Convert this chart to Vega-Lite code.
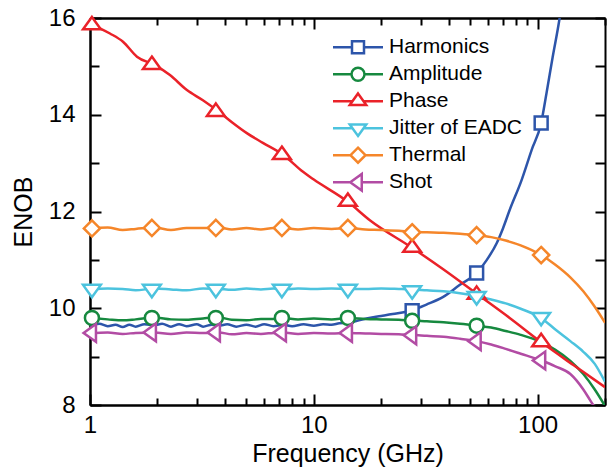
{
  "$schema": "https://vega.github.io/schema/vega-lite/v6.json",
  "width": 515,
  "height": 387,
  "autosize": {"type": "none"},
  "padding": {"left": 90, "top": 18, "right": 10, "bottom": 71},
  "background": "white",
  "config": {
    "view": {"stroke": null},
    "font": "Liberation Sans",
    "axis": {
      "grid": false,
      "domainColor": "black",
      "domainWidth": 2,
      "tickColor": "black",
      "tickWidth": 2,
      "labelFont": "Liberation Sans",
      "labelFontSize": 24,
      "labelColor": "black",
      "labelFlush": false,
      "labelOverlap": false,
      "labelBound": false,
      "titleFont": "Liberation Sans",
      "titleFontSize": 25,
      "titleFontWeight": "normal",
      "titleColor": "black"
    },
    "legend": {
      "labelFont": "Liberation Sans",
      "labelFontSize": 21,
      "labelColor": "black"
    }
  },
  "datasets": {
    "lines": [
      {"s":"Harmonics","f":1,"v":9.63},{"s":"Harmonics","f":1.1,"v":9.68},{"s":"Harmonics","f":1.2,"v":9.63},{"s":"Harmonics","f":1.3,"v":9.66},{"s":"Harmonics","f":1.4,"v":9.61},{"s":"Harmonics","f":1.5,"v":9.66},{"s":"Harmonics","f":1.6,"v":9.62},{"s":"Harmonics","f":1.75,"v":9.67},{"s":"Harmonics","f":1.94,"v":9.65},{"s":"Harmonics","f":2.1,"v":9.68},{"s":"Harmonics","f":2.3,"v":9.62},{"s":"Harmonics","f":2.5,"v":9.67},{"s":"Harmonics","f":2.7,"v":9.63},{"s":"Harmonics","f":3,"v":9.67},{"s":"Harmonics","f":3.2,"v":9.62},{"s":"Harmonics","f":3.5,"v":9.66},{"s":"Harmonics","f":3.77,"v":9.64},{"s":"Harmonics","f":4.1,"v":9.67},{"s":"Harmonics","f":4.5,"v":9.62},{"s":"Harmonics","f":5,"v":9.66},{"s":"Harmonics","f":5.5,"v":9.62},{"s":"Harmonics","f":6,"v":9.67},{"s":"Harmonics","f":6.6,"v":9.63},{"s":"Harmonics","f":7.31,"v":9.66},{"s":"Harmonics","f":8,"v":9.63},{"s":"Harmonics","f":9,"v":9.67},{"s":"Harmonics","f":10,"v":9.64},{"s":"Harmonics","f":11,"v":9.67},{"s":"Harmonics","f":12,"v":9.66},{"s":"Harmonics","f":13,"v":9.69},{"s":"Harmonics","f":14.2,"v":9.7},{"s":"Harmonics","f":17.2,"v":9.79},{"s":"Harmonics","f":20,"v":9.84},{"s":"Harmonics","f":22.5,"v":9.88},{"s":"Harmonics","f":27.5,"v":9.96},{"s":"Harmonics","f":32,"v":10.08},{"s":"Harmonics","f":37.7,"v":10.23},{"s":"Harmonics","f":44.8,"v":10.48},{"s":"Harmonics","f":53.4,"v":10.73},{"s":"Harmonics","f":59.3,"v":11.0},{"s":"Harmonics","f":65.7,"v":11.35},{"s":"Harmonics","f":70,"v":11.65},{"s":"Harmonics","f":75,"v":12.03},{"s":"Harmonics","f":84.8,"v":12.65},{"s":"Harmonics","f":94,"v":13.27},{"s":"Harmonics","f":103.7,"v":13.83},{"s":"Harmonics","f":109.6,"v":14.45},{"s":"Harmonics","f":116.7,"v":15.19},{"s":"Harmonics","f":125,"v":15.96},{"s":"Harmonics","f":130,"v":16.5},

      {"s":"Amplitude","f":1,"v":9.8},{"s":"Amplitude","f":1.2,"v":9.77},{"s":"Amplitude","f":1.4,"v":9.75},{"s":"Amplitude","f":1.6,"v":9.77},{"s":"Amplitude","f":1.94,"v":9.81},{"s":"Amplitude","f":2.3,"v":9.77},{"s":"Amplitude","f":2.7,"v":9.76},{"s":"Amplitude","f":3.2,"v":9.79},{"s":"Amplitude","f":3.77,"v":9.81},{"s":"Amplitude","f":4.3,"v":9.76},{"s":"Amplitude","f":5,"v":9.75},{"s":"Amplitude","f":5.8,"v":9.78},{"s":"Amplitude","f":6.6,"v":9.78},{"s":"Amplitude","f":7.31,"v":9.8},{"s":"Amplitude","f":8.5,"v":9.77},{"s":"Amplitude","f":10,"v":9.79},{"s":"Amplitude","f":12,"v":9.77},{"s":"Amplitude","f":14.2,"v":9.8},{"s":"Amplitude","f":17,"v":9.78},{"s":"Amplitude","f":20,"v":9.77},{"s":"Amplitude","f":24,"v":9.76},{"s":"Amplitude","f":27.5,"v":9.75},{"s":"Amplitude","f":32,"v":9.73},{"s":"Amplitude","f":38,"v":9.71},{"s":"Amplitude","f":45,"v":9.68},{"s":"Amplitude","f":53.4,"v":9.64},{"s":"Amplitude","f":62,"v":9.6},{"s":"Amplitude","f":72,"v":9.53},{"s":"Amplitude","f":84,"v":9.45},{"s":"Amplitude","f":103.7,"v":9.3},{"s":"Amplitude","f":120,"v":9.14},{"s":"Amplitude","f":140,"v":8.91},{"s":"Amplitude","f":160,"v":8.64},{"s":"Amplitude","f":180,"v":8.32},{"s":"Amplitude","f":200,"v":7.98},

      {"s":"Phase","f":1,"v":15.88},{"s":"Phase","f":1.228,"v":15.68},{"s":"Phase","f":1.404,"v":15.51},{"s":"Phase","f":1.621,"v":15.2},{"s":"Phase","f":1.94,"v":15.03},{"s":"Phase","f":2.276,"v":14.82},{"s":"Phase","f":2.71,"v":14.51},{"s":"Phase","f":3.195,"v":14.3},{"s":"Phase","f":3.77,"v":14.06},{"s":"Phase","f":4.35,"v":13.83},{"s":"Phase","f":5.02,"v":13.62},{"s":"Phase","f":5.92,"v":13.42},{"s":"Phase","f":7.31,"v":13.17},{"s":"Phase","f":8.95,"v":12.82},{"s":"Phase","f":10,"v":12.66},{"s":"Phase","f":14.2,"v":12.2},{"s":"Phase","f":17.8,"v":11.82},{"s":"Phase","f":27.5,"v":11.25},{"s":"Phase","f":38,"v":10.8},{"s":"Phase","f":53.4,"v":10.3},{"s":"Phase","f":75,"v":9.8},{"s":"Phase","f":103.7,"v":9.3},{"s":"Phase","f":145,"v":8.82},{"s":"Phase","f":200,"v":8.37},

      {"s":"Jitter of EADC","f":1,"v":10.38},{"s":"Jitter of EADC","f":1.2,"v":10.41},{"s":"Jitter of EADC","f":1.4,"v":10.4},{"s":"Jitter of EADC","f":1.6,"v":10.37},{"s":"Jitter of EADC","f":1.94,"v":10.41},{"s":"Jitter of EADC","f":2.3,"v":10.39},{"s":"Jitter of EADC","f":2.7,"v":10.37},{"s":"Jitter of EADC","f":3.2,"v":10.41},{"s":"Jitter of EADC","f":3.77,"v":10.4},{"s":"Jitter of EADC","f":4.3,"v":10.38},{"s":"Jitter of EADC","f":5,"v":10.41},{"s":"Jitter of EADC","f":5.8,"v":10.39},{"s":"Jitter of EADC","f":6.6,"v":10.41},{"s":"Jitter of EADC","f":7.31,"v":10.39},{"s":"Jitter of EADC","f":8.5,"v":10.41},{"s":"Jitter of EADC","f":10,"v":10.4},{"s":"Jitter of EADC","f":12,"v":10.41},{"s":"Jitter of EADC","f":14.2,"v":10.4},{"s":"Jitter of EADC","f":17,"v":10.4},{"s":"Jitter of EADC","f":20,"v":10.41},{"s":"Jitter of EADC","f":24,"v":10.4},{"s":"Jitter of EADC","f":27.5,"v":10.39},{"s":"Jitter of EADC","f":32,"v":10.37},{"s":"Jitter of EADC","f":38,"v":10.35},{"s":"Jitter of EADC","f":45,"v":10.31},{"s":"Jitter of EADC","f":53.4,"v":10.25},{"s":"Jitter of EADC","f":62,"v":10.18},{"s":"Jitter of EADC","f":72,"v":10.1},{"s":"Jitter of EADC","f":84,"v":9.99},{"s":"Jitter of EADC","f":103.7,"v":9.8},{"s":"Jitter of EADC","f":120,"v":9.56},{"s":"Jitter of EADC","f":140,"v":9.32},{"s":"Jitter of EADC","f":160,"v":9.1},{"s":"Jitter of EADC","f":180,"v":8.85},{"s":"Jitter of EADC","f":200,"v":8.48},

      {"s":"Thermal","f":1,"v":11.65},{"s":"Thermal","f":1.2,"v":11.67},{"s":"Thermal","f":1.4,"v":11.62},{"s":"Thermal","f":1.6,"v":11.64},{"s":"Thermal","f":1.94,"v":11.67},{"s":"Thermal","f":2.3,"v":11.62},{"s":"Thermal","f":2.7,"v":11.66},{"s":"Thermal","f":3.2,"v":11.66},{"s":"Thermal","f":3.77,"v":11.67},{"s":"Thermal","f":4.3,"v":11.63},{"s":"Thermal","f":5,"v":11.66},{"s":"Thermal","f":5.8,"v":11.63},{"s":"Thermal","f":6.6,"v":11.66},{"s":"Thermal","f":7.31,"v":11.66},{"s":"Thermal","f":8.5,"v":11.63},{"s":"Thermal","f":10,"v":11.66},{"s":"Thermal","f":12,"v":11.64},{"s":"Thermal","f":14.2,"v":11.66},{"s":"Thermal","f":17,"v":11.63},{"s":"Thermal","f":20,"v":11.62},{"s":"Thermal","f":24,"v":11.6},{"s":"Thermal","f":27.5,"v":11.58},{"s":"Thermal","f":32,"v":11.57},{"s":"Thermal","f":38,"v":11.56},{"s":"Thermal","f":45,"v":11.54},{"s":"Thermal","f":53.4,"v":11.51},{"s":"Thermal","f":62,"v":11.47},{"s":"Thermal","f":72,"v":11.4},{"s":"Thermal","f":84,"v":11.3},{"s":"Thermal","f":103.7,"v":11.1},{"s":"Thermal","f":120,"v":10.9},{"s":"Thermal","f":140,"v":10.64},{"s":"Thermal","f":160,"v":10.35},{"s":"Thermal","f":180,"v":10.03},{"s":"Thermal","f":200,"v":9.7},

      {"s":"Shot","f":1,"v":9.48},{"s":"Shot","f":1.2,"v":9.5},{"s":"Shot","f":1.4,"v":9.47},{"s":"Shot","f":1.6,"v":9.49},{"s":"Shot","f":1.94,"v":9.5},{"s":"Shot","f":2.3,"v":9.47},{"s":"Shot","f":2.7,"v":9.5},{"s":"Shot","f":3.2,"v":9.49},{"s":"Shot","f":3.77,"v":9.5},{"s":"Shot","f":4.3,"v":9.46},{"s":"Shot","f":5,"v":9.49},{"s":"Shot","f":5.8,"v":9.47},{"s":"Shot","f":6.6,"v":9.49},{"s":"Shot","f":7.31,"v":9.5},{"s":"Shot","f":8.5,"v":9.47},{"s":"Shot","f":10,"v":9.49},{"s":"Shot","f":12,"v":9.48},{"s":"Shot","f":14.2,"v":9.49},{"s":"Shot","f":17,"v":9.48},{"s":"Shot","f":20,"v":9.47},{"s":"Shot","f":24,"v":9.46},{"s":"Shot","f":27.5,"v":9.45},{"s":"Shot","f":32,"v":9.43},{"s":"Shot","f":38,"v":9.41},{"s":"Shot","f":45,"v":9.37},{"s":"Shot","f":53.4,"v":9.32},{"s":"Shot","f":62,"v":9.25},{"s":"Shot","f":72,"v":9.16},{"s":"Shot","f":84,"v":9.06},{"s":"Shot","f":103.7,"v":8.92},{"s":"Shot","f":120,"v":8.8},{"s":"Shot","f":140,"v":8.64},{"s":"Shot","f":160,"v":8.32},{"s":"Shot","f":170,"v":8.13},{"s":"Shot","f":177,"v":8.0},{"s":"Shot","f":185,"v":7.85}
    ],
    "marks": [
      {"series":"Harmonics","f":27.5,"v":9.95},{"series":"Harmonics","f":53.4,"v":10.73},{"series":"Harmonics","f":103.7,"v":13.83},
      {"series":"Amplitude","f":1.02,"v":9.8},{"series":"Amplitude","f":1.89,"v":9.8},{"series":"Amplitude","f":3.65,"v":9.8},{"series":"Amplitude","f":7.2,"v":9.8},{"series":"Amplitude","f":14.2,"v":9.8},{"series":"Amplitude","f":27.5,"v":9.74},{"series":"Amplitude","f":53.4,"v":9.64},
      {"series":"Phase","f":1.02,"v":15.85},{"series":"Phase","f":1.89,"v":15.03},{"series":"Phase","f":3.65,"v":14.06},{"series":"Phase","f":7.2,"v":13.17},{"series":"Phase","f":14.2,"v":12.2},{"series":"Phase","f":27.5,"v":11.25},{"series":"Phase","f":53.4,"v":10.28},{"series":"Phase","f":103.7,"v":9.3},
      {"series":"Jitter of EADC","f":1.02,"v":10.4},{"series":"Jitter of EADC","f":1.89,"v":10.4},{"series":"Jitter of EADC","f":3.65,"v":10.4},{"series":"Jitter of EADC","f":7.2,"v":10.4},{"series":"Jitter of EADC","f":14.2,"v":10.4},{"series":"Jitter of EADC","f":27.5,"v":10.37},{"series":"Jitter of EADC","f":53.4,"v":10.25},{"series":"Jitter of EADC","f":103.7,"v":9.82},
      {"series":"Thermal","f":1.02,"v":11.65},{"series":"Thermal","f":1.89,"v":11.66},{"series":"Thermal","f":3.65,"v":11.66},{"series":"Thermal","f":7.2,"v":11.66},{"series":"Thermal","f":14.2,"v":11.66},{"series":"Thermal","f":27.5,"v":11.57},{"series":"Thermal","f":53.4,"v":11.51},{"series":"Thermal","f":103.7,"v":11.1},
      {"series":"Shot","f":1.02,"v":9.49},{"series":"Shot","f":1.89,"v":9.5},{"series":"Shot","f":3.65,"v":9.5},{"series":"Shot","f":7.2,"v":9.5},{"series":"Shot","f":14.2,"v":9.49},{"series":"Shot","f":27.5,"v":9.44},{"series":"Shot","f":53.4,"v":9.32},{"series":"Shot","f":103.7,"v":8.92}
    ]
  },
  "resolve": {"axis": {"x": "independent", "y": "independent"}},
  "layer": [
    {
      "data": {"name": "lines"},
      "transform": [{"filter": "indexof(['Harmonics','Amplitude','Phase'], datum.s) >= 0"}],
      "mark": {"type": "line", "strokeWidth": 2.5, "clip": true, "interpolate": "monotone"},
      "encoding": {
        "x": {"field": "f", "type": "quantitative",
              "scale": {"type": "log", "domain": [1, 200], "nice": false},
              "axis": {"orient": "bottom", "values": [1, 10, 100], "format": "d", "tickSize": -11, "labelPadding": 19, "title": "Frequency (GHz)", "titlePadding": 4}},
        "y": {"field": "v", "type": "quantitative",
              "scale": {"domain": [8, 16], "nice": false, "zero": false},
              "axis": {"orient": "left", "values": [8, 10, 12, 14, 16], "tickSize": -11, "labelPadding": 26, "title": "ENOB", "titlePadding": 12}},
        "color": {"field": "s", "type": "nominal",
                  "scale": {"domain": ["Harmonics", "Amplitude", "Phase", "Jitter of EADC", "Thermal", "Shot"],
                            "range": ["#2D55AA", "#16893F", "#EA2229", "#4CC3DE", "#F5862A", "#B24CA4"]},
                  "legend": {"orient": "none", "legendX": 241.5, "legendY": 16, "title": null, "padding": 0,
                             "symbolSize": 2500, "symbolStrokeWidth": 2.5, "clipHeight": 26.4, "rowPadding": 0, "labelOffset": 4.5,
                             "encode": {"symbols": {"update": {
                               "fill": {"value": "white"},
                               "fillOpacity": {"value": 1},
                               "strokeWidth": {"value": 2.5},
                               "size": {"value": 2500},
                               "shape": {"signal": "datum.value === 'Harmonics' ? 'M-1,0H-0.24M0.24,0H1M-0.24,-0.24H0.24V0.24H-0.24Z' : datum.value === 'Amplitude' ? 'M-1,0H-0.26M0.26,0H1M-0.26,0A0.26,0.26,0,1,1,0.26,0A0.26,0.26,0,1,1,-0.26,0Z' : datum.value === 'Phase' ? 'M-1,0H-0.22M0.22,0H1M0,-0.31L0.33,0.15H-0.33Z' : datum.value === 'Jitter of EADC' ? 'M-1,0H-0.22M0.22,0H1M0,0.31L0.33,-0.15H-0.33Z' : datum.value === 'Thermal' ? 'M-1,0H-0.3M0.3,0H1M0,-0.3L0.3,0L0,0.3L-0.3,0Z' : 'M-1,0H-0.31M0.15,0H1M-0.31,0L0.15,-0.33V0.33Z'"}
                             }}}}}
      }
    },
    {
      "data": {"name": "lines"},
      "transform": [{"filter": "indexof(['Jitter of EADC','Thermal','Shot'], datum.s) >= 0"}],
      "mark": {"type": "line", "strokeWidth": 2.5, "clip": true, "interpolate": "monotone"},
      "encoding": {
        "x": {"field": "f", "type": "quantitative",
              "axis": {"orient": "bottom", "values": [2, 3, 4, 5, 6, 7, 8, 9, 20, 30, 40, 50, 60, 70, 80, 90, 200], "labels": false, "tickSize": -7, "title": null}},
        "y": {"field": "v", "type": "quantitative",
              "axis": {"orient": "left", "values": [9, 11, 13, 15], "labels": false, "tickSize": -9, "title": null}},
        "color": {"field": "s", "type": "nominal",
                  "legend": {"orient": "none", "legendX": 241.5, "legendY": 16, "title": null, "padding": 0,
                             "symbolSize": 2500, "symbolStrokeWidth": 2.5, "clipHeight": 26.4, "rowPadding": 0, "labelOffset": 4.5,
                             "encode": {"symbols": {"update": {
                               "fill": {"value": "white"},
                               "fillOpacity": {"value": 1},
                               "strokeWidth": {"value": 2.5},
                               "size": {"value": 2500},
                               "shape": {"signal": "datum.value === 'Harmonics' ? 'M-1,0H-0.24M0.24,0H1M-0.24,-0.24H0.24V0.24H-0.24Z' : datum.value === 'Amplitude' ? 'M-1,0H-0.26M0.26,0H1M-0.26,0A0.26,0.26,0,1,1,0.26,0A0.26,0.26,0,1,1,-0.26,0Z' : datum.value === 'Phase' ? 'M-1,0H-0.22M0.22,0H1M0,-0.31L0.33,0.15H-0.33Z' : datum.value === 'Jitter of EADC' ? 'M-1,0H-0.22M0.22,0H1M0,0.31L0.33,-0.15H-0.33Z' : datum.value === 'Thermal' ? 'M-1,0H-0.3M0.3,0H1M0,-0.3L0.3,0L0,0.3L-0.3,0Z' : 'M-1,0H-0.31M0.15,0H1M-0.31,0L0.15,-0.33V0.33Z'"}
                             }}}}}
      }
    },
    {
      "data": {"name": "marks"},
      "transform": [{"filter": "indexof(['Harmonics','Amplitude','Phase'], datum.series) >= 0"}],
      "mark": {"type": "point", "fill": "white", "filled": false, "fillOpacity": 1, "strokeWidth": 2.5, "size": 2900, "opacity": 1},
      "encoding": {
        "x": {"field": "f", "type": "quantitative",
              "axis": {"orient": "top", "values": [10, 100], "labels": false, "tickSize": -11, "title": null}},
        "y": {"field": "v", "type": "quantitative",
              "axis": {"orient": "right", "values": [8, 9, 10, 11, 12, 13, 14, 15, 16], "labels": false, "tickSize": -10, "title": null}},
        "stroke": {"field": "series", "type": "nominal",
                   "scale": {"domain": ["Shot", "Thermal", "Jitter of EADC", "Phase", "Amplitude", "Harmonics"],
                             "range": ["#B24CA4", "#F5862A", "#4CC3DE", "#EA2229", "#16893F", "#2D55AA"]},
                   "legend": null},
        "shape": {"field": "series", "type": "nominal",
                  "scale": {"domain": ["Shot", "Thermal", "Jitter of EADC", "Phase", "Amplitude", "Harmonics"],
                            "range": ["M-0.31,0L0.15,-0.33V0.33Z", "M0,-0.3L0.3,0L0,0.3L-0.3,0Z", "M0,0.31L0.33,-0.15H-0.33Z", "M0,-0.31L0.33,0.15H-0.33Z", "M-0.26,0A0.26,0.26,0,1,1,0.26,0A0.26,0.26,0,1,1,-0.26,0Z", "M-0.24,-0.24H0.24V0.24H-0.24Z"]},
                  "legend": null}
      }
    },
    {
      "data": {"name": "marks"},
      "transform": [{"filter": "indexof(['Jitter of EADC','Thermal','Shot'], datum.series) >= 0"}],
      "mark": {"type": "point", "fill": "white", "filled": false, "fillOpacity": 1, "strokeWidth": 2.5, "size": 2900, "opacity": 1},
      "encoding": {
        "x": {"field": "f", "type": "quantitative",
              "axis": {"orient": "top", "values": [2, 3, 4, 5, 6, 7, 8, 9, 20, 30, 40, 50, 60, 70, 80, 90, 200], "labels": false, "tickSize": -7, "title": null}},
        "y": {"field": "v", "type": "quantitative", "axis": null},
        "stroke": {"field": "series", "type": "nominal", "legend": null},
        "shape": {"field": "series", "type": "nominal", "legend": null}
      }
    }
  ]
}
